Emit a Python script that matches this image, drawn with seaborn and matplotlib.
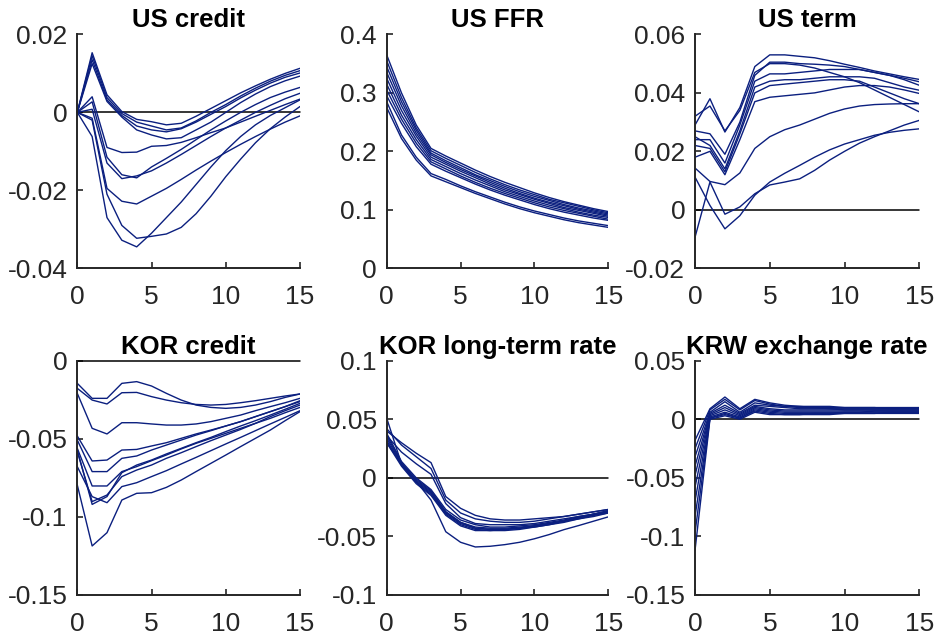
import numpy as np
import pandas as pd
import matplotlib
matplotlib.use("Agg")
import matplotlib.pyplot as plt
import seaborn as sns

horizon = list(range(16))

titles = ["US credit", "US FFR", "US term", "KOR credit", "KOR long-term rate", "KRW exchange rate"]

us_credit = [
    [0, 0.0153, 0.0045, 0.0002, -0.0018, -0.0024, -0.0032, -0.0028, -0.0010, 0.0010, 0.0030, 0.0050, 0.0068, 0.0085, 0.0100, 0.0113],
    [0, 0.0145, 0.0038, -0.0003, -0.0025, -0.0035, -0.0045, -0.0040, -0.0022, 0.0000, 0.0020, 0.0042, 0.0062, 0.0080, 0.0095, 0.0107],
    [0, 0.0135, 0.0032, -0.0008, -0.0035, -0.0045, -0.0050, -0.0042, -0.0025, -0.0005, 0.0015, 0.0037, 0.0057, 0.0075, 0.0090, 0.0101],
    [0, 0.0125, 0.0028, -0.0012, -0.0045, -0.0058, -0.0068, -0.0065, -0.0045, -0.0025, 0.0000, 0.0025, 0.0047, 0.0066, 0.0081, 0.0093],
    [0, 0.0040, -0.0090, -0.0103, -0.0102, -0.0087, -0.0085, -0.0077, -0.0065, -0.0052, -0.0040, -0.0025, -0.0010, 0.0005, 0.0020, 0.0034],
    [0, 0.0027, -0.0115, -0.0160, -0.0168, -0.0140, -0.0118, -0.0095, -0.0070, -0.0045, -0.0022, 0.0000, 0.0020, 0.0038, 0.0052, 0.0064],
    [0, 0.0008, -0.0130, -0.0170, -0.0163, -0.0150, -0.0130, -0.0108, -0.0085, -0.0062, -0.0040, -0.0020, 0.0000, 0.0018, 0.0035, 0.0049],
    [0, -0.0015, -0.0195, -0.0228, -0.0235, -0.0215, -0.0195, -0.0172, -0.0148, -0.0125, -0.0103, -0.0082, -0.0062, -0.0043, -0.0025, -0.0009],
    [0, -0.0062, -0.0270, -0.0328, -0.0345, -0.0310, -0.0270, -0.0230, -0.0185, -0.0140, -0.0098, -0.0062, -0.0032, -0.0008, 0.0012, 0.0032],
    [0, -0.0020, -0.0210, -0.0290, -0.0323, -0.0318, -0.0312, -0.0295, -0.0260, -0.0215, -0.0165, -0.0120, -0.0078, -0.0042, -0.0012, 0.0015],
]

us_ffr = [
    [0.365, 0.300, 0.245, 0.205, 0.192, 0.180, 0.168, 0.157, 0.147, 0.138, 0.129, 0.121, 0.114, 0.108, 0.102, 0.097],
    [0.355, 0.292, 0.240, 0.201, 0.188, 0.176, 0.164, 0.153, 0.143, 0.134, 0.126, 0.118, 0.112, 0.106, 0.100, 0.095],
    [0.345, 0.285, 0.236, 0.197, 0.184, 0.172, 0.160, 0.150, 0.140, 0.131, 0.123, 0.116, 0.109, 0.103, 0.098, 0.093],
    [0.335, 0.278, 0.231, 0.194, 0.181, 0.169, 0.158, 0.147, 0.137, 0.128, 0.120, 0.113, 0.107, 0.101, 0.096, 0.091],
    [0.325, 0.270, 0.226, 0.190, 0.178, 0.166, 0.155, 0.144, 0.134, 0.126, 0.118, 0.111, 0.104, 0.099, 0.094, 0.089],
    [0.315, 0.262, 0.220, 0.186, 0.174, 0.162, 0.151, 0.141, 0.131, 0.123, 0.115, 0.108, 0.102, 0.096, 0.091, 0.087],
    [0.305, 0.255, 0.214, 0.182, 0.170, 0.158, 0.147, 0.137, 0.128, 0.120, 0.112, 0.105, 0.099, 0.094, 0.089, 0.084],
    [0.295, 0.248, 0.208, 0.178, 0.166, 0.155, 0.144, 0.134, 0.125, 0.117, 0.109, 0.102, 0.096, 0.091, 0.086, 0.082],
    [0.285, 0.228, 0.190, 0.162, 0.152, 0.141, 0.131, 0.122, 0.113, 0.105, 0.098, 0.092, 0.086, 0.081, 0.077, 0.073],
    [0.275, 0.222, 0.185, 0.158, 0.148, 0.138, 0.128, 0.119, 0.110, 0.102, 0.095, 0.089, 0.083, 0.078, 0.074, 0.070],
]

us_term = [
    [0.029, 0.038, 0.0266, 0.035, 0.049, 0.053, 0.053, 0.0525, 0.052, 0.051, 0.0498, 0.0487, 0.0475, 0.0465, 0.0455, 0.0446],
    [0.032, 0.0355, 0.027, 0.034, 0.047, 0.050, 0.050, 0.0495, 0.0485, 0.047, 0.0455, 0.0435, 0.041, 0.0385, 0.036, 0.0335],
    [0.027, 0.026, 0.019, 0.030, 0.046, 0.0505, 0.0505, 0.050, 0.0498, 0.0495, 0.049, 0.048, 0.047, 0.046, 0.045, 0.0438],
    [0.024, 0.024, 0.016, 0.029, 0.044, 0.0465, 0.0465, 0.047, 0.0475, 0.048, 0.048, 0.048, 0.047, 0.046, 0.0445, 0.0426],
    [0.025, 0.022, 0.014, 0.027, 0.042, 0.044, 0.0445, 0.0445, 0.045, 0.0455, 0.0455, 0.0455, 0.045, 0.0435, 0.042, 0.0409],
    [0.022, 0.021, 0.013, 0.026, 0.040, 0.0425, 0.043, 0.0435, 0.044, 0.0445, 0.0445, 0.044, 0.042, 0.040, 0.038, 0.0363],
    [0.018, 0.020, 0.012, 0.024, 0.037, 0.0385, 0.039, 0.0395, 0.040, 0.041, 0.042, 0.0425, 0.0425, 0.042, 0.041, 0.0398],
    [0.0143, 0.0097, 0.0086, 0.0126, 0.021, 0.025, 0.0274, 0.029, 0.031, 0.033, 0.0345, 0.0355, 0.036, 0.0362, 0.0363, 0.0363],
    [-0.0094, 0.0095, -0.0015, 0.001, 0.0055, 0.0085, 0.0095, 0.0106, 0.0135, 0.017, 0.020, 0.0228, 0.025, 0.027, 0.029, 0.0306],
    [0.0112, 0.0015, -0.0065, -0.002, 0.005, 0.0095, 0.0125, 0.0152, 0.018, 0.0205, 0.0225, 0.024, 0.0255, 0.0265, 0.0272, 0.0277],
]

kor_credit = [
    [-0.0145, -0.0241, -0.0241, -0.0145, -0.0134, -0.0162, -0.0209, -0.0252, -0.0284, -0.0299, -0.0305, -0.0299, -0.0284, -0.0262, -0.0235, -0.0213],
    [-0.0177, -0.0252, -0.0277, -0.0205, -0.0203, -0.0230, -0.0252, -0.0269, -0.0280, -0.0284, -0.0280, -0.0269, -0.0256, -0.0241, -0.0226, -0.0213],
    [-0.0209, -0.0433, -0.0469, -0.0397, -0.0397, -0.0405, -0.0412, -0.0412, -0.0405, -0.0390, -0.0369, -0.0348, -0.0320, -0.0294, -0.0269, -0.0241],
    [-0.0482, -0.0642, -0.0636, -0.0572, -0.0568, -0.0546, -0.0525, -0.0497, -0.0469, -0.0444, -0.0418, -0.0390, -0.0358, -0.0326, -0.0294, -0.0262],
    [-0.0508, -0.0710, -0.0710, -0.0625, -0.0610, -0.0572, -0.0540, -0.0508, -0.0476, -0.0448, -0.0418, -0.0390, -0.0358, -0.0326, -0.0294, -0.0256],
    [-0.0561, -0.0802, -0.0802, -0.0710, -0.0678, -0.0640, -0.0604, -0.0565, -0.0529, -0.0497, -0.0465, -0.0433, -0.0401, -0.0358, -0.0320, -0.0284],
    [-0.0572, -0.0920, -0.0870, -0.0717, -0.0668, -0.0636, -0.0597, -0.0561, -0.0525, -0.0491, -0.0454, -0.0418, -0.0384, -0.0348, -0.0311, -0.0273],
    [-0.0582, -0.0902, -0.0860, -0.0742, -0.0700, -0.0668, -0.0625, -0.0589, -0.0550, -0.0512, -0.0476, -0.0440, -0.0401, -0.0369, -0.0333, -0.0299],
    [-0.0678, -0.0870, -0.0909, -0.0806, -0.0781, -0.0742, -0.0704, -0.0661, -0.0619, -0.0576, -0.0533, -0.0491, -0.0448, -0.0405, -0.0363, -0.0320],
    [-0.0796, -0.1186, -0.1101, -0.0892, -0.0849, -0.0845, -0.0811, -0.0764, -0.0710, -0.0657, -0.0604, -0.0550, -0.0497, -0.0444, -0.0384, -0.0326],
]

kor_long_rate = [
    [0.051, 0.012, -0.001, -0.011, -0.029, -0.038, -0.043, -0.044, -0.044, -0.043, -0.041, -0.039, -0.037, -0.034, -0.031, -0.029],
    [0.040, 0.030, 0.021, 0.013, -0.016, -0.026, -0.032, -0.035, -0.036, -0.036, -0.035, -0.034, -0.033, -0.031, -0.029, -0.027],
    [0.042, 0.028, 0.018, 0.008, -0.019, -0.030, -0.035, -0.037, -0.038, -0.038, -0.037, -0.035, -0.033, -0.031, -0.029, -0.027],
    [0.036, 0.022, 0.012, 0.003, -0.022, -0.034, -0.039, -0.040, -0.040, -0.040, -0.039, -0.037, -0.035, -0.033, -0.031, -0.028],
    [0.038, 0.014, 0.000, -0.010, -0.027, -0.036, -0.040, -0.042, -0.042, -0.041, -0.040, -0.038, -0.036, -0.033, -0.031, -0.028],
    [0.036, 0.013, -0.002, -0.012, -0.029, -0.038, -0.042, -0.043, -0.043, -0.042, -0.041, -0.039, -0.037, -0.034, -0.031, -0.029],
    [0.034, 0.012, -0.003, -0.013, -0.030, -0.039, -0.043, -0.044, -0.044, -0.043, -0.041, -0.039, -0.037, -0.034, -0.032, -0.029],
    [0.032, 0.011, -0.004, -0.014, -0.031, -0.040, -0.044, -0.045, -0.044, -0.043, -0.042, -0.040, -0.037, -0.035, -0.032, -0.030],
    [0.030, 0.010, -0.005, -0.015, -0.032, -0.041, -0.045, -0.045, -0.045, -0.044, -0.042, -0.040, -0.038, -0.035, -0.033, -0.030],
    [0.030, 0.012, -0.003, -0.019, -0.046, -0.055, -0.059, -0.0584, -0.057, -0.055, -0.052, -0.0484, -0.0442, -0.0407, -0.037, -0.0333],
]

krw_rate = [
    [-0.018, 0.009, 0.019, 0.009, 0.017, 0.014, 0.012, 0.011, 0.011, 0.011, 0.010, 0.010, 0.010, 0.010, 0.010, 0.010],
    [-0.025, 0.008, 0.017, 0.008, 0.016, 0.013, 0.011, 0.011, 0.010, 0.010, 0.010, 0.010, 0.010, 0.009, 0.009, 0.009],
    [-0.032, 0.006, 0.015, 0.006, 0.014, 0.012, 0.011, 0.010, 0.010, 0.009, 0.009, 0.009, 0.009, 0.009, 0.009, 0.009],
    [-0.040, 0.005, 0.012, 0.005, 0.012, 0.011, 0.010, 0.009, 0.009, 0.009, 0.008, 0.008, 0.008, 0.008, 0.008, 0.008],
    [-0.048, 0.004, 0.010, 0.004, 0.011, 0.009, 0.008, 0.008, 0.008, 0.008, 0.008, 0.008, 0.008, 0.008, 0.008, 0.008],
    [-0.058, 0.003, 0.008, 0.003, 0.010, 0.008, 0.007, 0.007, 0.007, 0.007, 0.007, 0.007, 0.007, 0.007, 0.007, 0.007],
    [-0.070, 0.002, 0.006, 0.002, 0.009, 0.007, 0.006, 0.006, 0.006, 0.006, 0.006, 0.006, 0.007, 0.007, 0.007, 0.007],
    [-0.083, 0.001, 0.005, 0.001, 0.008, 0.006, 0.005, 0.005, 0.005, 0.005, 0.006, 0.006, 0.006, 0.006, 0.006, 0.006],
    [-0.097, 0.001, 0.004, 0.001, 0.007, 0.005, 0.004, 0.004, 0.005, 0.005, 0.005, 0.005, 0.005, 0.006, 0.006, 0.006],
    [-0.112, 0.000, 0.003, 0.000, 0.006, 0.004, 0.004, 0.004, 0.004, 0.004, 0.005, 0.005, 0.005, 0.005, 0.005, 0.005],
]

x_ticks = [0, 5, 10, 15]
y_ticks = [
    [-0.04, -0.02, 0, 0.02],
    [0, 0.1, 0.2, 0.3, 0.4],
    [-0.02, 0, 0.02, 0.04, 0.06],
    [-0.15, -0.1, -0.05, 0],
    [-0.1, -0.05, 0, 0.05, 0.1],
    [-0.15, -0.1, -0.05, 0, 0.05],
]
y_tick_labels = [
    ["-0.04", "-0.02", "0", "0.02"],
    ["0", "0.1", "0.2", "0.3", "0.4"],
    ["-0.02", "0", "0.02", "0.04", "0.06"],
    ["-0.15", "-0.1", "-0.05", "0"],
    ["-0.1", "-0.05", "0", "0.05", "0.1"],
    ["-0.15", "-0.1", "-0.05", "0", "0.05"],
]

series = [us_credit, us_ffr, us_term, kor_credit, kor_long_rate, krw_rate]

rows = []
for p, s in enumerate(series):
    for d, vals in enumerate(s):
        for t, v in zip(horizon, vals):
            rows.append((p, d, t, v))
df = pd.DataFrame(rows, columns=["panel", "draw", "h", "value"])

sns.set_theme(style="white")
plt.rcParams["font.family"] = ["Liberation Sans", "DejaVu Sans"]

W, H = 934, 634
fig = plt.figure(figsize=(W / 100, H / 100), dpi=100)

lefts = [77.3, 386.7, 695.0]
rights = [300.0, 608.3, 919.3]
tops = [34.4, 360.7]
bottoms = [268.3, 595.0]

line_color = "#0b1f7f"
axis_color = "#262626"

for p in range(6):
    r, c = divmod(p, 3)
    l, rt = lefts[c], rights[c]
    tp, bt = tops[r], bottoms[r]
    ax = fig.add_axes([l / W, 1 - bt / H, (rt - l) / W, (bt - tp) / H])
    sub = df[df.panel == p]
    sns.lineplot(data=sub, x="h", y="value", units="draw", estimator=None,
                 color=line_color, lw=1.0, ax=ax, legend=False)
    ax.set_xlim(0, 15)
    yt = y_ticks[p]
    ax.set_ylim(yt[0], yt[-1])
    if p != 1:
        ax.axhline(0, color="black", lw=1.1, zorder=1, clip_on=False)
    ax.set_xticks(x_ticks)
    ax.set_xticklabels([str(v) for v in x_ticks])
    ax.set_yticks(yt)
    ax.set_yticklabels(y_tick_labels[p])
    ax.set_xlabel("")
    ax.set_ylabel("")
    ax.set_title(titles[p], fontsize=18.5, fontweight="bold", color="black", pad=5)
    for side in ["top", "right"]:
        ax.spines[side].set_visible(False)
    for side in ["left", "bottom"]:
        ax.spines[side].set_color(axis_color)
        ax.spines[side].set_linewidth(1.4)
    ax.tick_params(axis="both", direction="in", length=4, width=1.2,
                   colors=axis_color, labelsize=19, left=True, bottom=True)
    ax.tick_params(axis="x", pad=12)
    ax.tick_params(axis="y", pad=7)
    ax.grid(False)
    ax.set_facecolor("white")

fig.savefig("out.png", dpi=100, facecolor="white")
